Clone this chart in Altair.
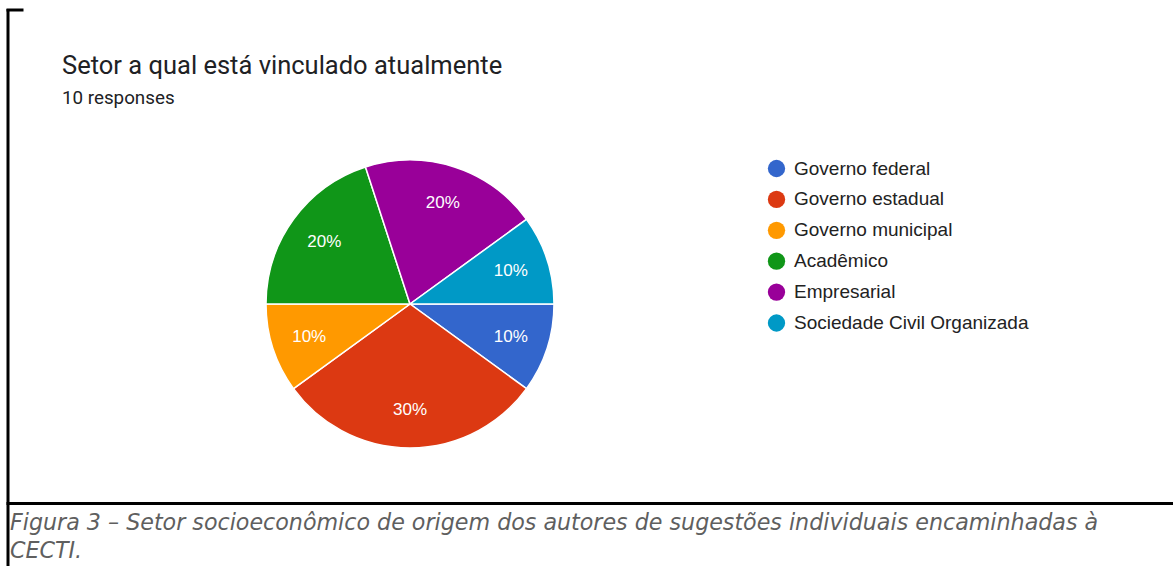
import math
import altair as alt
import pandas as pd

# ---- data ----
categories = ["Governo federal", "Governo estadual", "Governo municipal",
              "Acadêmico", "Empresarial", "Sociedade Civil Organizada"]
counts = [1, 3, 1, 2, 2, 1]
colors = ["#3366CC", "#DC3912", "#FF9900", "#109618", "#990099", "#0099C6"]

title_text = "Setor a qual está vinculado atualmente"
subtitle_text = "10 responses"
caption_line1 = "Figura 3 – Setor socioeconômico de origem dos autores de sugestões individuais encaminhadas à"
caption_line2 = "CECTI."

total = sum(counts)
df = pd.DataFrame({
    "setor": categories,
    "n": counts,
    "ordem": list(range(len(categories))),
    "pct": [f"{round(100 * c / total)}%" for c in counts],
})

CX, CY, R = 410, 304, 144

theta = alt.Theta("n:Q", stack=True,
                  scale=alt.Scale(range=[math.pi / 2, math.pi / 2 + 2 * math.pi]))
color = alt.Color("setor:N",
                  scale=alt.Scale(domain=categories, range=colors),
                  legend=alt.Legend(title=None, orient="none",
                                    legendX=767, legendY=159,
                                    symbolType="circle", symbolSize=300,
                                    symbolStrokeWidth=0, symbolOpacity=1,
                                    labelFont="Liberation Sans", labelFontSize=19,
                                    labelColor="#222222", labelOffset=8,
                                    rowPadding=10.9, padding=0, labelLimit=400))

base = alt.Chart(df).encode(
    theta=theta,
    color=color,
    order=alt.Order("ordem:Q"),
    x=alt.value(CX), y=alt.value(CY),
)

pie = base.mark_arc(outerRadius=R, stroke="white", strokeWidth=1.5)
labels = base.mark_text(radius=106, font="Liberation Sans", fontSize=17,
                        fill="white", align="center", baseline="middle").encode(
    text="pct:N", color=alt.value("white"))

one = pd.DataFrame({"a": [0]})

title = alt.Chart(pd.DataFrame({"t": [title_text]})).mark_text(
    font="Roboto", fontSize=25.5, color="#202124", align="left", baseline="alphabetic"
).encode(x=alt.value(62), y=alt.value(74), text="t:N")

subtitle = alt.Chart(pd.DataFrame({"t": [subtitle_text]})).mark_text(
    font="Roboto", fontSize=18.8, color="#202124", align="left", baseline="alphabetic"
).encode(x=alt.value(62), y=alt.value(104), text="t:N")

cap1 = alt.Chart(pd.DataFrame({"t": [caption_line1]})).mark_text(
    font="DejaVu Sans", fontSize=22.2, fontStyle="italic", color="#5f5f5f",
    align="left", baseline="alphabetic"
).encode(x=alt.value(10), y=alt.value(530), text="t:N")

cap2 = alt.Chart(pd.DataFrame({"t": [caption_line2]})).mark_text(
    font="DejaVu Sans", fontSize=22.2, fontStyle="italic", color="#5f5f5f",
    align="left", baseline="alphabetic"
).encode(x=alt.value(10), y=alt.value(558), text="t:N")

left_rule = alt.Chart(one).mark_rule(color="black", strokeWidth=3).encode(
    x=alt.value(8), y=alt.value(9), y2=alt.value(566))
top_rule = alt.Chart(one).mark_rule(color="black", strokeWidth=3).encode(
    x=alt.value(6.5), x2=alt.value(23.5), y=alt.value(10))
bottom_rule = alt.Chart(one).mark_rule(color="black", strokeWidth=3).encode(
    x=alt.value(6.5), x2=alt.value(1173), y=alt.value(503.5))

chart = alt.layer(
    pie, labels, title, subtitle, cap1, cap2, left_rule, top_rule, bottom_rule
).properties(
    width=1173, height=566, autosize="none", padding=0, background="white"
).configure_view(strokeWidth=0)

chart.save("out.html", embed_options={"renderer": "svg", "actions": False})
